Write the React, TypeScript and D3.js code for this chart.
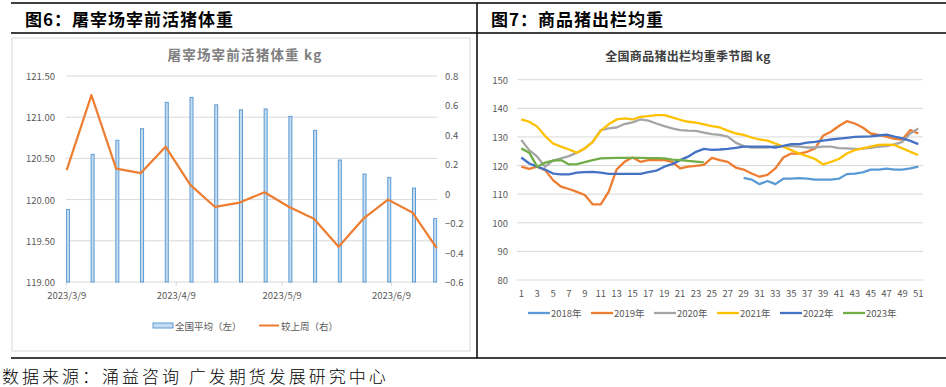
import React from 'react';
import * as d3 from 'd3';

// 图6 data: weekly national average live weight before slaughter
const slaughterDates = [
  '2023-03-09', '2023-03-16', '2023-03-23', '2023-03-30', '2023-04-06', '2023-04-13',
  '2023-04-20', '2023-04-27', '2023-05-04', '2023-05-11', '2023-05-18', '2023-05-25',
  '2023-06-01', '2023-06-08', '2023-06-15', '2023-06-21',
];
const nationalAvg = [
  119.88, 120.55, 120.72, 120.86, 121.18, 121.24, 121.15, 121.09, 121.1, 121.01,
  120.84, 120.48, 120.31, 120.27, 120.14, 119.77,
];
const weekChange = [
  0.16, 0.67, 0.17, 0.14, 0.32, 0.06, -0.09, -0.06, 0.01, -0.09, -0.17, -0.36,
  -0.17, -0.04, -0.13, -0.37,
];
const leftTicks = [119, 119.5, 120, 120.5, 121, 121.5];
const rightTicks = [-0.6, -0.4, -0.2, 0, 0.2, 0.4, 0.6, 0.8];
const dateTicks = ['2023-03-09', '2023-04-09', '2023-05-09', '2023-06-09'];
const dateDomain = ['2023-03-09', '2023-06-22'];

// 图7 data: seasonal commercial hog weight by week
const weeks = d3.range(1, 52);
const y2018 = [
  115.7, 115.1, 113.5, 114.6, 113.5, 115.4, 115.4, 115.6, 115.4, 115.1, 115.1, 115.1,
  115.4, 117.0, 117.2, 117.6, 118.6, 118.6, 118.9, 118.6, 118.6, 119.0, 119.6,
]; // weeks 29-51
const y2019 = [
  119.6, 118.8, 119.6, 118.4, 114.9, 112.6, 111.8, 110.8, 109.7, 106.4, 106.4, 110.8,
  118.6, 121.3, 122.8, 121.3, 121.9, 121.9, 121.9, 121.3, 119.0, 119.6, 119.9, 120.2,
  122.7, 121.9, 121.3, 119.3, 118.6, 117.2, 116.1, 116.7, 119.0, 122.8, 124.2, 124.2,
  124.8, 126.0, 130.4, 131.8, 133.8, 135.5, 134.7, 133.3, 131.2, 130.7, 130.1, 129.3,
  129.1, 132.4, 131.2,
];
const y2020 = [
  128.9, 125.4, 123.1, 119.6, 121.7, 122.5, 123.3, 124.5, 126.0, 128.3, 132.4, 133.0,
  133.3, 134.5, 135.1, 136.1, 135.7, 134.7, 133.8, 133.0, 132.4, 132.2, 132.1, 131.5,
  131.0, 130.7, 130.1, 128.0, 126.8, 126.3, 126.3, 126.3, 126.8, 126.8, 126.8, 126.6,
  126.3, 126.3, 126.6, 126.6, 126.1, 126.0, 125.8, 125.9, 126.2, 126.6, 126.8, 127.4,
  128.3, 131.2, 133.0,
];
const y2021 = [
  136.1, 135.3, 133.6, 130.3, 127.7, 126.6, 125.6, 124.5, 126.0, 128.3, 132.1, 134.4,
  136.1, 136.5, 136.1, 137.0, 137.3, 137.6, 137.6, 136.8, 136.0, 135.3, 135.0, 134.4,
  133.8, 133.3, 132.2, 131.2, 130.7, 129.8, 129.1, 128.7, 127.7, 126.6, 125.4, 124.2,
  123.3, 122.3, 120.4, 121.3, 122.3, 124.2, 125.4, 126.0, 126.6, 127.2, 127.3, 127.2,
  126.0, 124.8, 123.7,
];
const y2022 = [
  122.8, 120.7, 119.6, 118.6, 117.2, 116.9, 116.9, 117.5, 117.7, 117.8, 117.5, 117.1,
  117.1, 117.1, 117.1, 117.1, 117.7, 118.2, 119.6, 120.5, 121.9, 123.1, 124.8, 125.8,
  125.5, 125.6, 125.8, 126.2, 126.6, 126.6, 126.6, 126.6, 126.3, 126.9, 127.5, 127.5,
  128.0, 128.3, 128.7, 129.1, 129.4, 129.7, 130.0, 130.1, 130.2, 130.5, 130.8, 130.1,
  129.5, 128.6, 127.5,
];
const y2023 = [
  126.0, 124.5, 119.6, 121.0, 121.7, 121.9, 120.4, 120.5, 121.2, 121.9, 122.5, 122.6,
  122.7, 122.7, 122.7, 122.7, 122.6, 122.6, 122.5, 122.1, 121.9, 121.6, 121.4, 121.1,
];
const seasonTicks = [80, 90, 100, 110, 120, 130, 140, 150];

const seriesList = [
  { name: '2018年', color: '#5b9bd5', start: 29, values: y2018 },
  { name: '2019年', color: '#ed7d31', start: 1, values: y2019 },
  { name: '2020年', color: '#a5a5a5', start: 1, values: y2020 },
  { name: '2021年', color: '#ffc000', start: 1, values: y2021 },
  { name: '2022年', color: '#4472c4', start: 1, values: y2022 },
  { name: '2023年', color: '#70ad47', start: 1, values: y2023 },
];

const FONT = '"Noto Sans CJK SC", "Noto Sans", sans-serif';
const AXIS_COLOR = '#595959';

const parse = d3.timeParse('%Y-%m-%d');
const fmtDate = d3.timeFormat('%Y/%-m/%-d');

const LeftChart = () => {
  const dates = slaughterDates.map(d => parse(d) as Date);
  const x = d3
    .scaleTime()
    .domain(dateDomain.map(d => parse(d) as Date))
    .range([66.7, 437.5]);
  const yL = d3.scaleLinear().domain([119, 121.5]).range([282, 76]);
  const yR = d3.scaleLinear().domain([-0.6, 0.8]).range([282, 76]);
  const line = d3
    .line<number>()
    .x((_, i) => (i === dates.length - 1 ? x.range()[1] - 0.8 : x(dates[i])))
    .y(d => yR(d));

  return (
    <g>
      <rect x={12} y={38} width={458} height={313} fill="none" stroke="#d9d9d9" />
      <text x={245} y={54} textAnchor="middle" dominantBaseline="central" fontSize={13.5}
        fontWeight={700} letterSpacing={1.2} fill="#7f7f7f" fontFamily={FONT}>
        屠宰场宰前活猪体重 kg
      </text>
      <defs>
        <clipPath id="plotL">
          <rect x={66} y={60} width={371.5} height={230} />
        </clipPath>
      </defs>
      {leftTicks.map(t => (
        <g key={t}>
          <line x1={66} x2={437} y1={yL(t)} y2={yL(t)} stroke="#d9d9d9" />
          <text x={55} y={yL(t)} textAnchor="end" dominantBaseline="central" fontSize={9.5}
            fill={AXIS_COLOR} fontFamily={FONT}>{t.toFixed(2)}</text>
        </g>
      ))}
      {rightTicks.map(t => (
        <text key={t} x={445} y={yR(t)} dominantBaseline="central" fontSize={9.5}
          fill={AXIS_COLOR} fontFamily={FONT}>{d3.format('~g')(t)}</text>
      ))}
      {dateTicks.map(d => {
        const dx = x(parse(d) as Date);
        return (
          <g key={d}>
            <line x1={dx} x2={dx} y1={282} y2={286} stroke="#d9d9d9" />
            <text x={dx} y={295} textAnchor="middle" dominantBaseline="central" fontSize={9.5}
              fill={AXIS_COLOR} fontFamily={FONT}>{fmtDate(parse(d) as Date)}</text>
          </g>
        );
      })}
      <g clipPath="url(#plotL)">
        {nationalAvg.map((v, i) => (
          <rect key={i} x={x(dates[i]) - 0.3} y={yL(v)} width={3} height={282 - yL(v)}
            fill="#c5dcf0" stroke="#5b9bd5" strokeWidth={1} />
        ))}
      </g>
      <path d={line(weekChange) || ''} fill="none" stroke="#ed7d31" strokeWidth={2.2}
        strokeLinejoin="round" />
      {/* legend */}
      <rect x={153} y={323} width={20} height={5} fill="#c5dcf0" stroke="#5b9bd5" />
      <text x={175} y={325.5} dominantBaseline="central" fontSize={9.5} fill={AXIS_COLOR}
        fontFamily={FONT}>全国平均（左）</text>
      <line x1={259} x2={279} y1={325.5} y2={325.5} stroke="#ed7d31" strokeWidth={2} />
      <text x={281} y={325.5} dominantBaseline="central" fontSize={9.5} fill={AXIS_COLOR}
        fontFamily={FONT}>较上周（右）</text>
    </g>
  );
};

const RightChart = () => {
  const x = d3.scalePoint<number>().domain(weeks).range([521.3, 918.3]);
  const y = d3.scaleLinear().domain([80, 150]).range([280, 79.7]);
  const line = d3
    .line<{ w: number; v: number }>()
    .x(d => x(d.w) as number)
    .y(d => y(d.v));

  return (
    <g>
      <text x={688} y={55} textAnchor="middle" dominantBaseline="central" fontSize={12}
        fontWeight={700} letterSpacing={0.3} fill="#404040" fontFamily={FONT}>
        全国商品猪出栏均重季节图 kg
      </text>
      {seasonTicks.map(t => (
        <g key={t}>
          <line x1={517} x2={923} y1={y(t)} y2={y(t)} stroke="#d9d9d9" />
          <text x={508} y={y(t)} textAnchor="end" dominantBaseline="central" fontSize={9.5}
            fill={AXIS_COLOR} fontFamily={FONT}>{t}</text>
        </g>
      ))}
      {weeks.filter(w => w % 2 === 1).map(w => (
        <text key={w} x={x(w)} y={293} textAnchor="middle" dominantBaseline="central"
          fontSize={9.5} fill={AXIS_COLOR} fontFamily={FONT}>{w}</text>
      ))}
      {seriesList.map(s => (
        <path key={s.name}
          d={line(s.values.map((v, i) => ({ w: s.start + i, v }))) || ''}
          fill="none" stroke={s.color} strokeWidth={2.3} strokeLinejoin="round" />
      ))}
      {seriesList.map((s, i) => {
        const lx = 528 + i * 63;
        return (
          <g key={s.name}>
            <line x1={lx} x2={lx + 22} y1={313} y2={313} stroke={s.color} strokeWidth={2.3} />
            <text x={lx + 23} y={313} dominantBaseline="central" fontSize={9.5}
              fill={AXIS_COLOR} fontFamily={FONT}>{s.name}</text>
          </g>
        );
      })}
    </g>
  );
};

export default function App() {
  return (
    <svg width={946} height={387} style={{ position: 'absolute', left: 0, top: 0, background: '#fff' }}>
      <rect width={946} height={387} fill="#fff" />
      <line x1={11} x2={946} y1={3} y2={3} stroke="#000" strokeWidth={1.5} />
      <line x1={11} x2={946} y1={33} y2={33} stroke="#000" strokeWidth={1.5} />
      <line x1={11} x2={946} y1={358} y2={358} stroke="#000" strokeWidth={1.5} />
      <line x1={477} x2={477} y1={3} y2={358} stroke="#000" strokeWidth={1.5} />
      <text x={25} y={18.5} dominantBaseline="central" fontSize={17} fontWeight={700}
        letterSpacing={1} fill="#000" fontFamily={FONT}>图6：屠宰场宰前活猪体重</text>
      <text x={491} y={18.5} dominantBaseline="central" fontSize={17} fontWeight={700}
        letterSpacing={1} fill="#000" fontFamily={FONT}>图7：商品猪出栏均重</text>
      <LeftChart />
      <RightChart />
      <text x={2} y={375} dominantBaseline="central" fontSize={17} fontWeight={300}
        letterSpacing={3} fill="#000" fontFamily={FONT}>数据来源：涌益咨询 广发期货发展研究中心</text>
    </svg>
  );
}
